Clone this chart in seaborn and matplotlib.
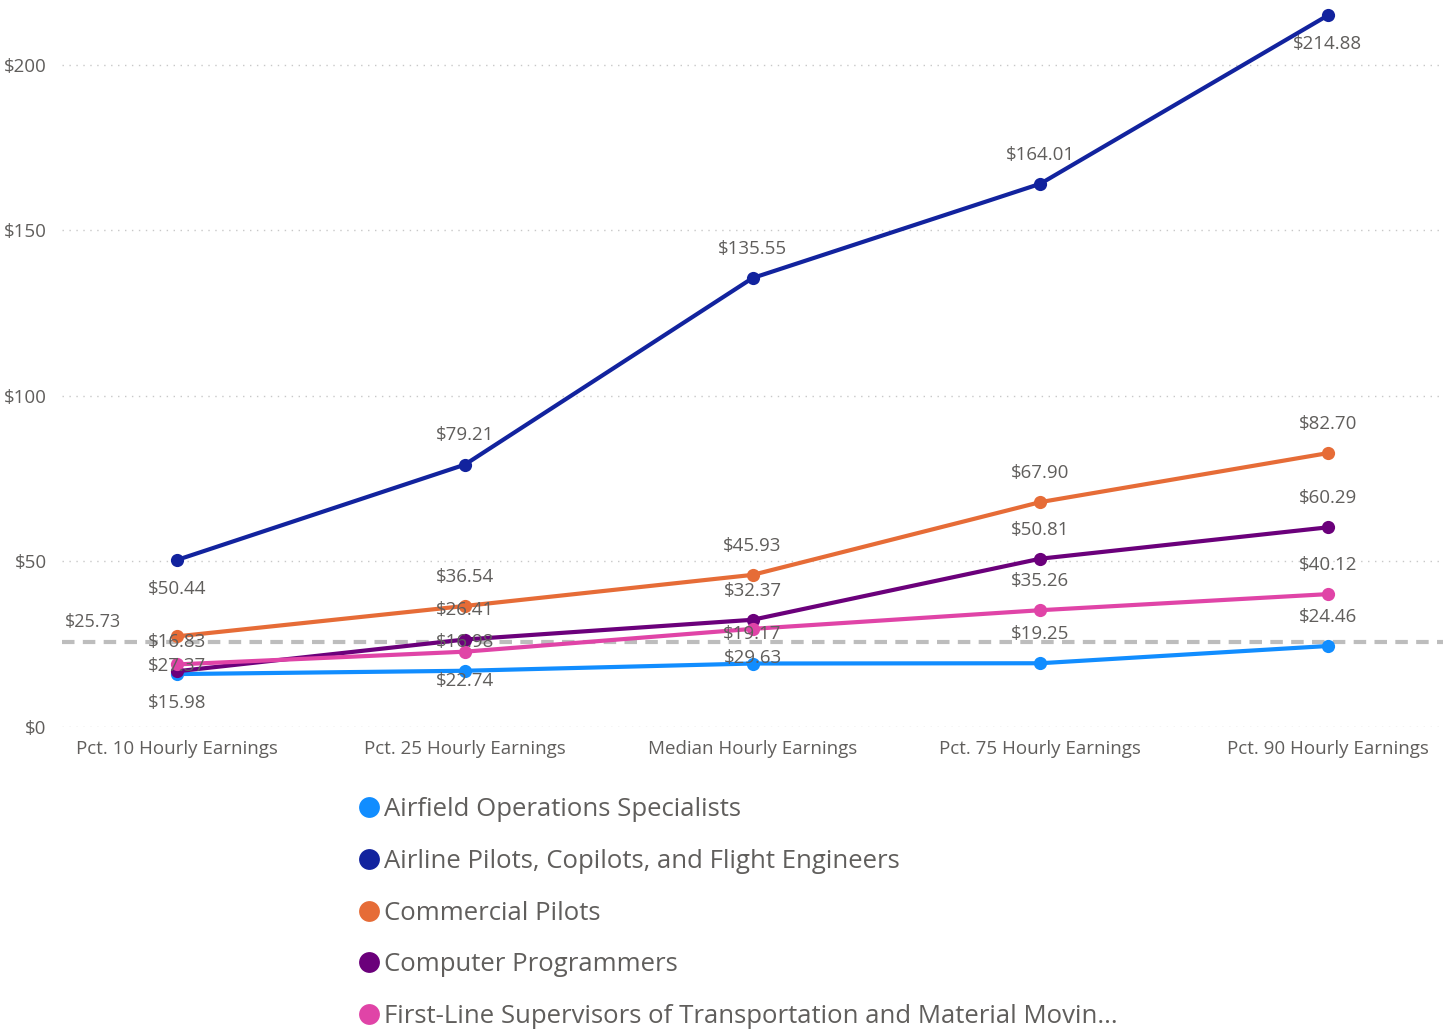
import matplotlib
matplotlib.use("Agg")
import matplotlib.pyplot as plt
from matplotlib.lines import Line2D
import seaborn as sns
import pandas as pd

# Hourly earnings by percentile for five occupations
categories = ["Pct. 10 Hourly Earnings", "Pct. 25 Hourly Earnings", "Median Hourly Earnings",
              "Pct. 75 Hourly Earnings", "Pct. 90 Hourly Earnings"]
occupations = ["Airfield Operations Specialists",
               "Airline Pilots, Copilots, and Flight Engineers",
               "Commercial Pilots",
               "Computer Programmers",
               "First-Line Supervisors of Transportation and Material Movin..."]
airfield_ops = [15.98, 16.98, 19.17, 19.25, 24.46]
airline_pilots = [50.44, 79.21, 135.55, 164.01, 214.88]
commercial_pilots = [27.37, 36.54, 45.93, 67.90, 82.70]
computer_programmers = [16.83, 26.41, 32.37, 50.81, 60.29]
transport_supervisors = [18.90, 22.74, 29.63, 35.26, 40.12]
reference_value = 25.73
y_ticks = [0, 50, 100, 150, 200]

series = [airfield_ops, airline_pilots, commercial_pilots,
          computer_programmers, transport_supervisors]
colors = ["#118DFF", "#12239E", "#E66C37", "#6B007B", "#E044A7"]

rows = []
for occ, vals in zip(occupations, series):
    for cat, v in zip(categories, vals):
        rows.append({"occupation": occ, "category": cat, "value": v})
df = pd.DataFrame(rows)

sns.set_theme(style="white")
plt.rcParams["font.family"] = ["Open Sans", "DejaVu Sans"]
text_gray = "#605E5C"

fig = plt.figure(figsize=(14.52, 10.30), dpi=100)
ax = fig.add_axes([62 / 1452, 303 / 1030, 1381 / 1452, 722 / 1030])

# dotted horizontal gridlines
for t in y_ticks:
    ax.axhline(t, color="#C8C8C8", linestyle=(0, (1, 4)), linewidth=1.0, zorder=0)

# dashed reference line
ax.axhline(reference_value, color="#BDBDBD", linestyle=(0, (3, 2)), linewidth=3, zorder=1)
ax.annotate(f"${reference_value:.2f}", (-0.39, reference_value), xytext=(0, 14),
            textcoords="offset points", ha="left", va="center", fontsize=13, color=text_gray)

sns.lineplot(data=df, x="category", y="value", hue="occupation", palette=colors,
             marker="o", markersize=9.5, markeredgewidth=0, linewidth=3.0,
             legend=False, ax=ax, zorder=3)

# data labels: (series index, point index) drawn below the point; one label hidden
below = {(1, 0), (1, 4), (2, 0), (0, 0), (4, 1), (4, 2)}
hidden = {(4, 0)}
for si, vals in enumerate(series):
    for pi, v in enumerate(vals):
        if (si, pi) in hidden:
            continue
        dy = -21 if (si, pi) in below else 21
        ax.annotate(f"${v:.2f}", (pi, v), xytext=(0, dy), textcoords="offset points",
                    ha="center", va="center", fontsize=13.5, color=text_gray, zorder=5)

ax.set_xlim(-0.4, 4.4)
ax.set_ylim(0, 218)
ax.set_yticks(y_ticks)
ax.set_yticklabels([f"${t}" for t in y_ticks])
ax.set_xlabel("")
ax.set_ylabel("")
ax.tick_params(axis="y", length=0, pad=11, labelsize=13.5, labelcolor=text_gray)
ax.tick_params(axis="x", length=0, pad=9, labelsize=13.5, labelcolor=text_gray)
for s in ax.spines.values():
    s.set_visible(False)

handles = [Line2D([], [], marker="o", linestyle="none", markersize=15,
                  markerfacecolor=c, markeredgewidth=0) for c in colors]
fig.legend(handles, occupations, loc="upper left", bbox_to_anchor=(343 / 1452, 1 - 787 / 1030),
           frameon=False, fontsize=18.5, labelcolor=text_gray, handletextpad=0.0,
           handlelength=1.2, labelspacing=1.04, borderaxespad=0)

fig.savefig("out.png", dpi=100)
